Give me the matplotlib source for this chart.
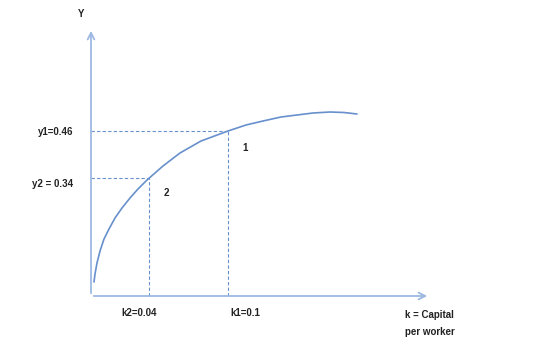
import matplotlib
matplotlib.use("Agg")
import matplotlib.pyplot as plt

# schematic units: distance (px-like) from the origin of the drawn axes
curve_x = [3, 4, 6, 9, 13, 18, 24, 31, 39, 47, 56, 72, 89, 110, 137, 155,
           172, 190, 206, 222, 239, 253, 266]
curve_y = [14, 22, 33, 45, 57, 67, 78, 88, 98, 107, 116, 130, 143, 155, 165, 171,
           175, 179, 181, 183, 184, 183.5, 182]

k_pos = [58, 137]          # k2, k1
y_pos = [118, 165]         # y2, y1
k_labels = ["k2=0.04", "k1=0.1"]
y_labels = ["y2 = 0.34", "y1=0.46"]
region_labels = ["2", "1"]

blue = "#6790cc"
axis_blue = "#9db9e2"

fig = plt.figure(figsize=(5.6, 3.46), dpi=100)
ax = fig.add_axes([0, 0, 1, 1])
ax.set_xlim(-91, 469)
ax.set_ylim(-50, 296)
ax.axis("off")

font = dict(family=["Liberation Sans", "DejaVu Sans"], fontsize=7, fontweight="bold", color="#222222")

# axes with open arrowheads
ax.annotate("", xy=(0, 268), xytext=(0, 0),
            arrowprops=dict(arrowstyle="->", color=axis_blue, lw=1.3, mutation_scale=12))
ax.annotate("", xy=(339, 0), xytext=(0, 0),
            arrowprops=dict(arrowstyle="->", color=axis_blue, lw=1.3, mutation_scale=12))

# production curve
ax.plot(curve_x, curve_y, color=blue, lw=1.2, solid_capstyle="round", solid_joinstyle="round")

# dashed guides
for kx, yy in zip(k_pos, y_pos):
    ax.plot([0, kx], [yy, yy], ls=(0, (3, 2)), color=blue, lw=0.8)
    ax.plot([kx, kx], [0, yy], ls=(0, (3, 2)), color=blue, lw=0.8)

# labels
ax.text(-10, 282, "Y", ha="center", va="center", **font)
ax.text(-18, y_pos[0] - 6, y_labels[0], ha="right", va="center", **font)
ax.text(-18, y_pos[1] - 1, y_labels[1], ha="right", va="center", **font)
ax.text(48, -17, k_labels[0], ha="center", va="center", **font)
ax.text(154, -17, k_labels[1], ha="center", va="center", **font)
ax.text(75, 103, region_labels[0], ha="center", va="center", **font)
ax.text(154, 148, region_labels[1], ha="center", va="center", **font)
ax.text(314, -19, "k = Capital", ha="left", va="center", **font)
ax.text(314, -36, "per worker", ha="left", va="center", **font)

fig.savefig("out.png", dpi=100)
